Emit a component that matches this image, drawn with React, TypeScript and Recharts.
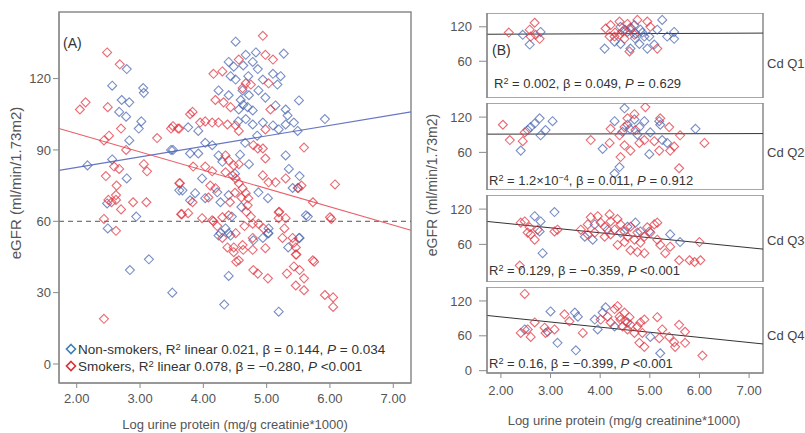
import React from 'react';
import {
  ScatterChart, Scatter, XAxis, YAxis, ReferenceLine, ReferenceArea,
} from 'recharts';

type Pt = [number, number];

// ---- Panel A: all subjects, non-smokers vs smokers ----
const nonSmokersA: Pt[] = [
  [2.56, 117], [2.79, 124], [3.05, 116], [3.06, 114], [2.71, 111], [2.83, 110], [2.67, 106], [2.78, 104],
  [3.02, 102], [2.98, 99], [2.83, 94], [3.52, 90], [3.49, 90], [2.17, 83.5], [2.56, 86], [2.79, 78],
  [3.62, 73], [2.48, 67.5], [2.94, 62], [2.49, 57], [3.14, 44], [2.84, 39.5], [3.51, 30], [4.33, 25],
  [5.19, 22], [4.4, 37], [5.52, 53], [5.34, 49], [5.03, 55], [5.03, 57], [5.65, 62], [4.27, 55],
  [4.4, 55], [4.79, 52], [4.51, 135.5], [5.27, 130.5], [4.67, 130], [4.83, 131], [4.4, 127], [4.48, 125],
  [4.63, 125.5], [4.78, 127], [4.86, 124], [4.43, 121], [4.51, 119.6], [4.71, 121], [4.94, 119.6], [5.1, 122],
  [5.22, 121], [5.17, 117.5], [4.24, 115], [4.4, 113], [4.87, 115], [4.98, 112], [4.59, 111], [4.63, 109],
  [4.7, 108], [4.56, 107], [4.78, 106.6], [5.14, 108.7], [5.3, 107], [5.33, 104.5], [3.76, 99.5], [3.92, 98],
  [4.67, 103], [4.78, 100.7], [4.94, 101.5], [5.1, 100.3], [5.19, 98.6], [5.3, 100.7], [3.79, 88.5], [3.92, 88.5],
  [4.24, 87.7], [4.3, 85], [3.98, 78], [3.87, 71.8], [3.79, 68.8], [4.03, 69.7], [4.22, 72.2], [4.27, 68],
  [4.4, 71], [4.87, 72.2], [5.02, 69.7], [5.02, 55], [4.35, 57], [4.24, 54], [4.43, 54], [4.94, 53],
  [5.3, 87.7], [5.35, 82], [4.03, 93], [4.14, 92], [5.51, 110.8], [5.43, 101.5], [5.49, 98], [5.92, 103],
  [5.52, 79], [5.49, 74], [5.41, 74], [5.62, 62.5], [5.51, 53], [3.67, 73], [4.62, 115], [4.72, 113],
  [4.55, 102], [4.85, 96], [4.66, 93], [4.58, 88], [4.72, 84], [4.5, 80], [4.6, 66], [4.45, 62],
];
const smokersA: Pt[] = [
  [2.48, 131], [2.68, 126], [2.05, 107], [2.14, 110], [2.49, 108], [2.7, 99], [2.51, 96], [2.43, 94],
  [3.27, 95], [3.49, 99], [3.62, 99], [2.78, 90], [2.59, 83], [2.67, 82], [3.06, 84], [3.11, 81],
  [2.46, 79], [2.63, 75], [2.62, 71], [3.62, 76], [2.5, 69], [2.55, 68], [2.62, 69], [2.7, 65],
  [2.89, 68], [3.1, 68], [2.43, 61], [2.62, 56], [3.65, 63], [2.43, 19], [3.79, 105], [3.6, 99],
  [3.52, 100], [3.63, 76], [3.83, 68], [3.66, 63], [4.52, 43], [4.79, 39.5], [4.86, 38], [5.02, 36],
  [5.32, 38], [5.43, 41], [5.47, 46], [5.52, 39.5], [5.59, 36], [5.46, 33], [5.59, 31], [5.75, 43],
  [5.92, 29], [6.05, 28], [6.05, 24], [5.43, 51], [5.2, 64], [5.28, 57], [6.02, 61], [5.73, 68],
  [4.3, 53], [4.38, 49], [4.48, 49], [4.63, 48], [4.78, 48], [4.78, 53], [4.16, 60], [4.22, 58],
  [4.94, 138], [4.98, 130], [5.1, 128], [4.56, 128], [4.16, 122], [4.3, 123], [4.67, 118], [4.75, 117.5],
  [4.62, 116], [5.03, 118], [4.19, 111], [4.32, 110], [4.43, 108], [5.06, 107], [3.83, 106], [3.95, 101.5],
  [4.03, 102], [4.14, 101.5], [4.24, 101.5], [4.38, 100.7], [4.51, 100.3], [4.56, 98], [4.98, 98.6], [3.84, 83],
  [4.03, 83], [4.14, 81], [4.35, 87.7], [4.4, 85.6], [4.48, 83.5], [4.56, 84], [4.35, 80.6], [4.46, 79.3],
  [4.51, 78], [4.56, 76], [4.62, 73.9], [4.67, 71.8], [4.71, 69.7], [4.7, 66.7], [4.11, 75], [4.19, 73.9],
  [4.08, 70], [4.94, 79.3], [5.03, 76.4], [5.14, 76.4], [5.19, 63.8], [5.3, 61.3], [5.19, 61.3], [3.76, 63.4],
  [3.98, 61.3], [4.14, 60.4], [4.3, 61.7], [4.4, 62.5], [4.78, 59], [4.87, 59], [4.95, 57], [4.51, 55],
  [4.62, 50], [4.48, 47], [4.56, 43.6], [5.25, 53], [5.41, 53], [5.46, 49], [4.98, 48.7], [4.86, 90.6],
  [4.94, 90.6], [4.79, 92], [5.3, 78], [4.98, 86.4], [5.59, 91], [5.5, 74], [5.55, 75], [6.08, 75.5],
  [6.0, 61.7], [5.46, 46], [5.73, 43.6], [4.6, 70], [4.68, 64], [4.75, 62], [4.65, 58], [4.42, 68], [4.5, 72],
];
const fitNonSmokersA: Pt[] = [[1.72, 81.4], [7.28, 106]];
const fitSmokersA: Pt[] = [[1.72, 99], [7.28, 56.2]];

// ---- Panel B: by cadmium quartile ----
const q1Blue: Pt[] = [
  [2.8, 111], [2.58, 89], [2.44, 106], [4.09, 82], [4.41, 120], [4.55, 111], [4.69, 123], [4.81, 115],
  [4.89, 103], [5.15, 115], [5.25, 132], [5.35, 103], [5.49, 111], [5.49, 99], [4.99, 103], [5.09, 89],
  [4.79, 90], [4.61, 82], [4.95, 82], [4.29, 94], [4.41, 90], [4.5, 115], [4.62, 118], [4.72, 108],
  [4.85, 110], [4.7, 100],
];
const q1Red: Pt[] = [
  [2.16, 110], [2.68, 127], [2.58, 115], [2.7, 106], [2.78, 99], [2.6, 103], [4.21, 123], [4.39, 129],
  [4.55, 125], [4.75, 132], [4.95, 129], [5.01, 120], [4.59, 77], [5.15, 82], [4.29, 103], [4.39, 106],
  [4.49, 99], [4.69, 106], [4.11, 117], [4.19, 103], [4.45, 112], [4.6, 118], [4.3, 110],
];
const q2Blue: Pt[] = [
  [2.4, 63], [2.54, 98], [2.68, 109], [2.78, 118], [2.8, 89], [2.9, 98], [3.04, 113], [2.6, 103],
  [4.05, 66], [4.29, 113], [4.49, 135], [4.55, 107], [4.69, 116], [4.79, 103], [4.89, 113], [5.01, 94],
  [5.19, 113], [5.25, 81], [4.99, 57], [4.39, 35], [4.29, 24], [5.92, 100], [5.35, 76], [5.21, 107],
  [4.6, 100], [4.45, 95], [4.75, 90],
];
const q2Red: Pt[] = [
  [2.04, 107], [2.18, 81], [2.44, 79], [2.48, 94], [3.81, 81], [4.91, 137], [4.55, 118], [4.69, 125],
  [4.21, 100], [4.39, 89], [4.49, 72], [4.61, 63], [4.41, 52], [4.79, 76], [4.89, 81], [5.21, 118],
  [5.39, 103], [5.41, 63], [5.59, 33], [6.1, 76], [5.61, 89], [5.49, 70], [5.19, 63], [5.09, 79],
  [4.19, 76], [4.49, 103], [4.71, 98],
];
const q3Blue: Pt[] = [
  [2.68, 108], [2.8, 99], [3.08, 115], [2.84, 45], [2.78, 82], [3.69, 73], [3.85, 68], [3.89, 94],
  [4.41, 80], [4.55, 90], [4.71, 97], [4.81, 82], [4.99, 82], [5.41, 77], [5.61, 64], [4.15, 85],
];
const q3Red: Pt[] = [
  [2.4, 97], [2.48, 99], [2.58, 89], [2.6, 77], [2.68, 68], [2.54, 80], [2.74, 85], [2.38, 24],
  [3.08, 82], [3.14, 85], [3.61, 85], [3.75, 94], [3.81, 106], [3.95, 108], [4.01, 97], [4.09, 90],
  [4.19, 111], [4.21, 99], [4.29, 85], [4.35, 103], [4.41, 94], [4.49, 82], [4.55, 73], [4.61, 90],
  [4.69, 68], [4.75, 80], [4.81, 63], [4.89, 73], [4.95, 89], [5.01, 80], [5.09, 94], [5.15, 68],
  [5.21, 59], [5.31, 45], [5.41, 56], [5.59, 33], [5.8, 33], [5.9, 30], [6.02, 33], [6.0, 64],
  [5.15, 97], [4.49, 64], [4.35, 59], [4.61, 50], [4.75, 47], [4.89, 45], [4.09, 73], [3.89, 80],
  [3.75, 77], [4.21, 77],
];
const q4Blue: Pt[] = [
  [2.48, 71], [3.0, 102], [2.94, 67], [3.14, 48], [3.51, 35], [3.49, 100], [3.55, 93], [3.89, 88],
  [4.05, 100], [4.11, 109], [4.29, 76], [4.55, 83], [5.01, 58], [5.21, 30], [3.95, 71],
];
const q4Red: Pt[] = [
  [2.48, 132], [2.4, 65], [2.54, 71], [2.6, 58], [2.68, 83], [2.9, 65], [3.08, 71], [3.28, 97],
  [3.38, 85], [3.65, 65], [2.88, 74], [4.01, 88], [4.15, 93], [4.21, 83], [4.29, 106], [4.35, 111],
  [4.39, 93], [4.41, 88], [4.45, 76], [4.49, 100], [4.51, 85], [4.55, 71], [4.59, 92], [4.61, 79],
  [4.69, 65], [4.75, 76], [4.81, 83], [4.89, 88], [4.79, 48], [4.89, 41], [5.15, 92], [5.25, 71],
  [5.39, 58], [5.49, 49], [5.51, 41], [5.59, 79], [5.71, 67], [5.71, 48], [6.06, 26], [5.19, 56],
  [4.85, 65],
];
const fitQ1: Pt[] = [[1.72, 107], [7.28, 109]];
const fitQ2: Pt[] = [[1.72, 91], [7.28, 92]];
const fitQ3: Pt[] = [[1.72, 99], [7.28, 52]];
const fitQ4: Pt[] = [[1.72, 95], [7.28, 46]];

const xTicks = [2, 3, 4, 5, 6, 7];
const yTicksA = [0, 30, 60, 90, 120];
const yTicksB = [0, 60, 120];

const X_DOMAIN: [number, number] = [1.72, 7.28];
const Y_DOMAIN_A: [number, number] = [-8, 148];
const Y_DOMAIN_B: [number, number] = [-4, 144];

const BLUE = '#4562ad';
const RED = '#e0323e';
const FONT = '"Liberation Sans", Arial, sans-serif';
const AXIS = '#8a8a8a';
const tickStyle = { fill: '#555', fontSize: 13, fontFamily: FONT };

const toObj = (pts: Pt[]) => pts.map(([x, y]) => ({ x, y }));
const seg = (pts: Pt[]) => pts.map(([x, y]) => ({ x, y }));

const diamond = (color: string, r = 4.5) => (props: any) => {
  const { cx, cy } = props;
  if (cx == null || cy == null) return <g />;
  return (
    <path
      d={`M${cx},${cy - r}L${cx + r},${cy}L${cx},${cy + r}L${cx - r},${cy}Z`}
      fill="none"
      stroke={color}
      strokeWidth={1.1}
      strokeOpacity={0.72}
    />
  );
};

const abs = (left: number, top: number, extra: React.CSSProperties = {}): React.CSSProperties => ({
  position: 'absolute', left, top, fontFamily: FONT, color: '#333', whiteSpace: 'nowrap', lineHeight: 1, ...extra,
});

const Sup: React.FC<{ children: React.ReactNode }> = ({ children }) => (
  <span style={{ fontSize: '0.7em', position: 'relative', top: '-0.45em' }}>{children}</span>
);

const LegendDiamond: React.FC<{ color: string }> = ({ color }) => (
  <svg width={12} height={12} style={{ verticalAlign: '-1px', marginRight: 1 }}>
    <path d="M6,1.5L10.5,6L6,10.5L1.5,6Z" fill="none" stroke={color} strokeWidth={1.6} />
  </svg>
);

interface QProps {
  top: number;
  height: number;
  blue: Pt[];
  red: Pt[];
  fit: Pt[];
  showX?: boolean;
}

const QuartilePanel: React.FC<QProps> = ({ top, height, blue, red, fit, showX }) => (
  <div style={{ position: 'absolute', left: 440, top }}>
    <ScatterChart width={330} height={height} margin={{ top: 0, right: 7, bottom: 0, left: 0 }}>
      <XAxis
        type="number" dataKey="x" domain={X_DOMAIN} ticks={xTicks} hide={!showX} height={30}
        allowDataOverflow tickFormatter={(v: number) => v.toFixed(2)} tick={tickStyle}
        tickSize={5} tickMargin={8} stroke={AXIS}
      />
      <YAxis
        type="number" dataKey="y" domain={Y_DOMAIN_B} ticks={yTicksB} width={47}
        allowDataOverflow tick={tickStyle} tickSize={8} tickMargin={7} stroke={AXIS}
      />
      <ReferenceArea x1={X_DOMAIN[0]} x2={X_DOMAIN[1]} y1={Y_DOMAIN_B[0]} y2={Y_DOMAIN_B[1]} fill="none" stroke={AXIS} strokeWidth={1.5} />
      <Scatter data={toObj(blue)} shape={diamond(BLUE)} isAnimationActive={false} />
      <Scatter data={toObj(red)} shape={diamond(RED)} isAnimationActive={false} />
      <ReferenceLine segment={seg(fit)} stroke="#333" strokeWidth={1} />
    </ScatterChart>
  </div>
);

const App: React.FC = () => (
  <div style={{ position: 'absolute', left: 0, top: 0, width: 805, height: 433, background: '#fff', overflow: 'hidden', fontFamily: FONT }}>
    {/* Panel A */}
    <div style={{ position: 'absolute', left: 0, top: 0 }}>
      <ScatterChart width={420} height={433} margin={{ top: 12, right: 9, bottom: 0, left: 0 }}>
        <XAxis
          type="number" dataKey="x" domain={X_DOMAIN} ticks={xTicks} height={50}
          allowDataOverflow tickFormatter={(v: number) => v.toFixed(2)} tick={tickStyle}
          tickSize={5} tickMargin={6} stroke={AXIS}
        />
        <YAxis
          type="number" dataKey="y" domain={Y_DOMAIN_A} ticks={yTicksA} width={59}
          allowDataOverflow tick={tickStyle} tickSize={6} tickMargin={2} stroke={AXIS}
        />
        <ReferenceArea x1={X_DOMAIN[0]} x2={X_DOMAIN[1]} y1={Y_DOMAIN_A[0]} y2={Y_DOMAIN_A[1]} fill="none" stroke={AXIS} strokeWidth={1.5} />
        <ReferenceLine y={60} stroke="#555" strokeDasharray="5 4" strokeWidth={1} />
        <Scatter data={toObj(nonSmokersA)} shape={diamond(BLUE)} isAnimationActive={false} />
        <Scatter data={toObj(smokersA)} shape={diamond(RED)} isAnimationActive={false} />
        <ReferenceLine segment={seg(fitNonSmokersA)} stroke="#6676c2" strokeWidth={1.1} />
        <ReferenceLine segment={seg(fitSmokersA)} stroke="#e8606a" strokeWidth={1.1} />
      </ScatterChart>
    </div>
    <div style={abs(63, 36, { fontSize: 14 })}>(A)</div>
    <div style={abs(65, 343, { fontSize: 13.5 })}>
      <LegendDiamond color="#3f7fb8" />Non-smokers, R<Sup>2</Sup> linear 0.021, β = 0.144, <i>P</i> = 0.034
    </div>
    <div style={abs(65, 360, { fontSize: 13.5 })}>
      <LegendDiamond color="#d83038" />Smokers, R<Sup>2</Sup> linear 0.078, β = −0.280, <i>P</i> &lt;0.001
    </div>
    <div style={abs(15, 183, { fontSize: 15, color: '#555', transform: 'translate(-50%, -50%) rotate(-90deg)' })}>
      eGFR (ml/min/1.73m2)
    </div>
    <div style={abs(235, 424, { fontSize: 13, color: '#555', transform: 'translate(-50%, -50%)' })}>
      Log urine protein (mg/g creatinie*1000)
    </div>

    {/* Panel B */}
    <QuartilePanel top={13} height={85} blue={q1Blue} red={q1Red} fit={fitQ1} />
    <QuartilePanel top={103} height={87} blue={q2Blue} red={q2Red} fit={fitQ2} />
    <QuartilePanel top={195} height={87} blue={q3Blue} red={q3Red} fit={fitQ3} />
    <QuartilePanel top={287} height={116} blue={q4Blue} red={q4Red} fit={fitQ4} showX />

    <div style={abs(492, 43, { fontSize: 14 })}>(B)</div>
    <div style={abs(494, 77, { fontSize: 13 })}>R<Sup>2</Sup> = 0.002, β = 0.049, <i>P</i> = 0.629</div>
    <div style={abs(489, 174, { fontSize: 13 })}>R<Sup>2</Sup> = 1.2×10<Sup>−4</Sup>, β = 0.011, <i>P</i> = 0.912</div>
    <div style={abs(489, 264, { fontSize: 13 })}>R<Sup>2</Sup> = 0.129, β = −0.359, <i>P</i> &lt;0.001</div>
    <div style={abs(489, 357, { fontSize: 13 })}>R<Sup>2</Sup> = 0.16, β = −0.399, <i>P</i> &lt;0.001</div>

    <div style={abs(767, 57, { fontSize: 13, color: '#444' })}>Cd Q1</div>
    <div style={abs(767, 146, { fontSize: 13, color: '#444' })}>Cd Q2</div>
    <div style={abs(767, 234, { fontSize: 13, color: '#444' })}>Cd Q3</div>
    <div style={abs(767, 329, { fontSize: 13, color: '#444' })}>Cd Q4</div>

    <div style={abs(432, 185, { fontSize: 14, color: '#555', transform: 'translate(-50%, -50%) rotate(-90deg)' })}>
      eGFR (ml/min/1.73m2)
    </div>
    <div style={abs(624, 420, { fontSize: 13, color: '#555', transform: 'translate(-50%, -50%)' })}>
      Log urine protein (mg/g creatinine*1000)
    </div>
  </div>
);

export default App;
